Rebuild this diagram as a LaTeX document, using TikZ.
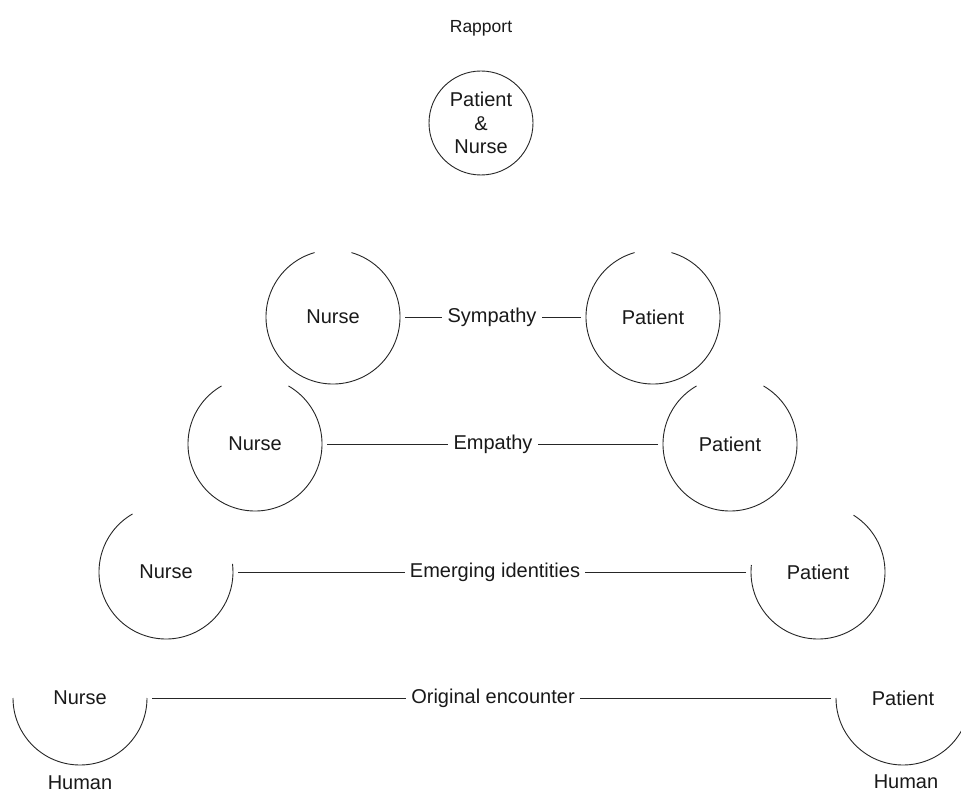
\documentclass[tikz,border=0pt]{standalone}
\usepackage{fontspec}
\setmainfont{Liberation Sans}
\begin{document}
\begin{tikzpicture}[x=1pt,y=-1pt,
  lbl/.style={font=\fontsize{20}{23.5}\selectfont, text=black!90, inner sep=2pt},
  circ/.style={lbl, circle, minimum size=134pt, inner sep=0pt, outer sep=0pt},
  ring/.style={draw=black!85, line width=0.9pt},
  conn/.style={draw=black!85, line width=0.8pt, shorten <=5pt, shorten >=3pt}]
\fill[white] (0,0) rectangle (961,794);
\clip (0,0) rectangle (961,794);
% top
\node[lbl, font=\fontsize{17.5}{21}\selectfont] (rap) at (481,28) {Rapport};
\node[lbl, circle, minimum size=104pt, inner sep=0pt, outer sep=0pt, align=center, draw=black!85, line width=0.9pt] (pn) at (481,123) {Patient\\\&\\Nurse};
% sympathy row
\node[circ] (sn) at (333,317) {Nurse};
\node[circ] (sp) at (653,317) {Patient};
\node[lbl] (sym) at (492,317) {Sympathy};
\draw[ring] (sn.106) arc[start angle=106, end angle=434, radius=67pt];
\draw[ring] (sp.106) arc[start angle=106, end angle=434, radius=67pt];
\draw[conn] (sn) -- (sym);
\draw[conn] (sp) -- (sym);
% empathy row
\node[circ] (en) at (255,444) {Nurse};
\node[circ] (ep) at (730,444) {Patient};
\node[lbl] (emp) at (493,444) {Empathy};
\draw[ring] (en.120) arc[start angle=120, end angle=420, radius=67pt];
\draw[ring] (ep.120) arc[start angle=120, end angle=420, radius=67pt];
\draw[conn] (en) -- (emp);
\draw[conn] (ep) -- (emp);
% emerging row
\node[circ] (mn) at (166,572) {Nurse};
\node[circ] (mp) at (818,572) {Patient};
\node[lbl] (emg) at (495,572) {Emerging identities};
\draw[ring] (mn.120) arc[start angle=120, end angle=367, radius=67pt];
\draw[ring] (mp.174) arc[start angle=174, end angle=418, radius=67pt];
\draw[conn] (mn) -- (emg);
\draw[conn] (mp) -- (emg);
% original row
\node[circ] (on) at (80,698) {Nurse};
\node[circ] (op) at (903,698) {Patient};
\node[lbl] (orig) at (493,698) {Original encounter};
\draw[ring] (on.180) arc[start angle=180, end angle=360, radius=67pt];
\draw[ring] (op.180) arc[start angle=180, end angle=360, radius=67pt];
\draw[conn] (on) -- (orig);
\draw[conn] (op) -- (orig);
\node[lbl] (hn) at (80,783) {Human};
\node[lbl] (hp) at (906,782) {Human};
\end{tikzpicture}
\end{document}
